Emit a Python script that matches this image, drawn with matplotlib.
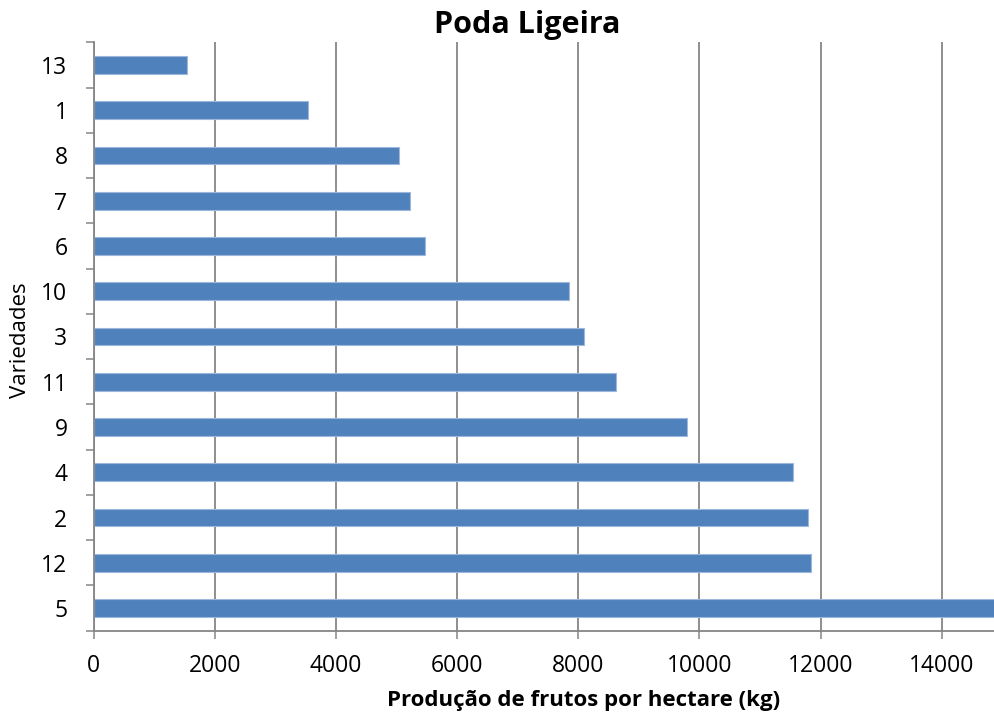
import matplotlib
matplotlib.use("Agg")
import matplotlib.pyplot as plt
from matplotlib.ticker import MultipleLocator, FixedLocator

# Varieties listed bottom to top, with fruit yield per hectare (kg)
VARIEDADES = ["5", "12", "2", "4", "9", "11", "3", "10", "6", "7", "8", "1", "13"]
PRODUCAO_KG = [15000, 11845, 11790, 11540, 9800, 8625, 8100, 7840, 5460, 5220, 5045, 3530, 1535]

X_MAX = 14880
BAR_COLOR = "#4F81BD"
GRID_COLOR = "#868686"

plt.rcParams["font.family"] = ["Open Sans", "DejaVu Sans"]

fig = plt.figure(figsize=(9.95, 7.18), dpi=100)
ax = fig.add_axes([0.0943, 0.1216, 1.0 - 0.0943, 0.9411 - 0.1216])

positions = list(range(len(VARIEDADES)))
ax.barh(positions, PRODUCAO_KG, height=0.39, color=BAR_COLOR,
        edgecolor="#9DB8DC", linewidth=0.8, zorder=3)

ax.set_xlim(0, X_MAX)
ax.set_ylim(-0.5, len(VARIEDADES) - 0.5)

# x axis: ticks every 2000 with vertical gridlines
ax.xaxis.set_major_locator(MultipleLocator(2000))
ax.grid(axis="x", color=GRID_COLOR, linewidth=1.3, zorder=0)
ax.tick_params(axis="x", direction="out", length=6, width=1.1, color=GRID_COLOR,
               labelsize=16.5, pad=11)

# y axis: labels at the bars, tick marks between categories
ax.set_yticks(positions)
ax.set_yticklabels(VARIEDADES)
ax.yaxis.set_minor_locator(FixedLocator([p - 0.5 for p in positions] + [len(positions) - 0.5]))
ax.tick_params(axis="y", which="major", length=0, labelsize=16.5, pad=19)
ax.tick_params(axis="y", which="minor", direction="out", length=6, width=1.1, color=GRID_COLOR)

for side in ("top", "right"):
    ax.spines[side].set_visible(False)
for side in ("left", "bottom"):
    ax.spines[side].set_color(GRID_COLOR)
    ax.spines[side].set_linewidth(1.3)
ax.spines["left"].set_zorder(4)

fig.text(527 / 995, 1 - 33 / 718, "Poda Ligeira", ha="center", va="baseline",
         fontsize=22, fontweight="bold")
fig.text(584 / 995, 1 - 706 / 718, "Produção de frutos por hectare (kg)",
         ha="center", va="baseline", fontsize=16, fontweight="bold")
fig.text(21 / 995, 1 - 340 / 718, "Variedades", ha="center", va="center",
         rotation=90, fontsize=16)

fig.savefig("out.png", dpi=100)
